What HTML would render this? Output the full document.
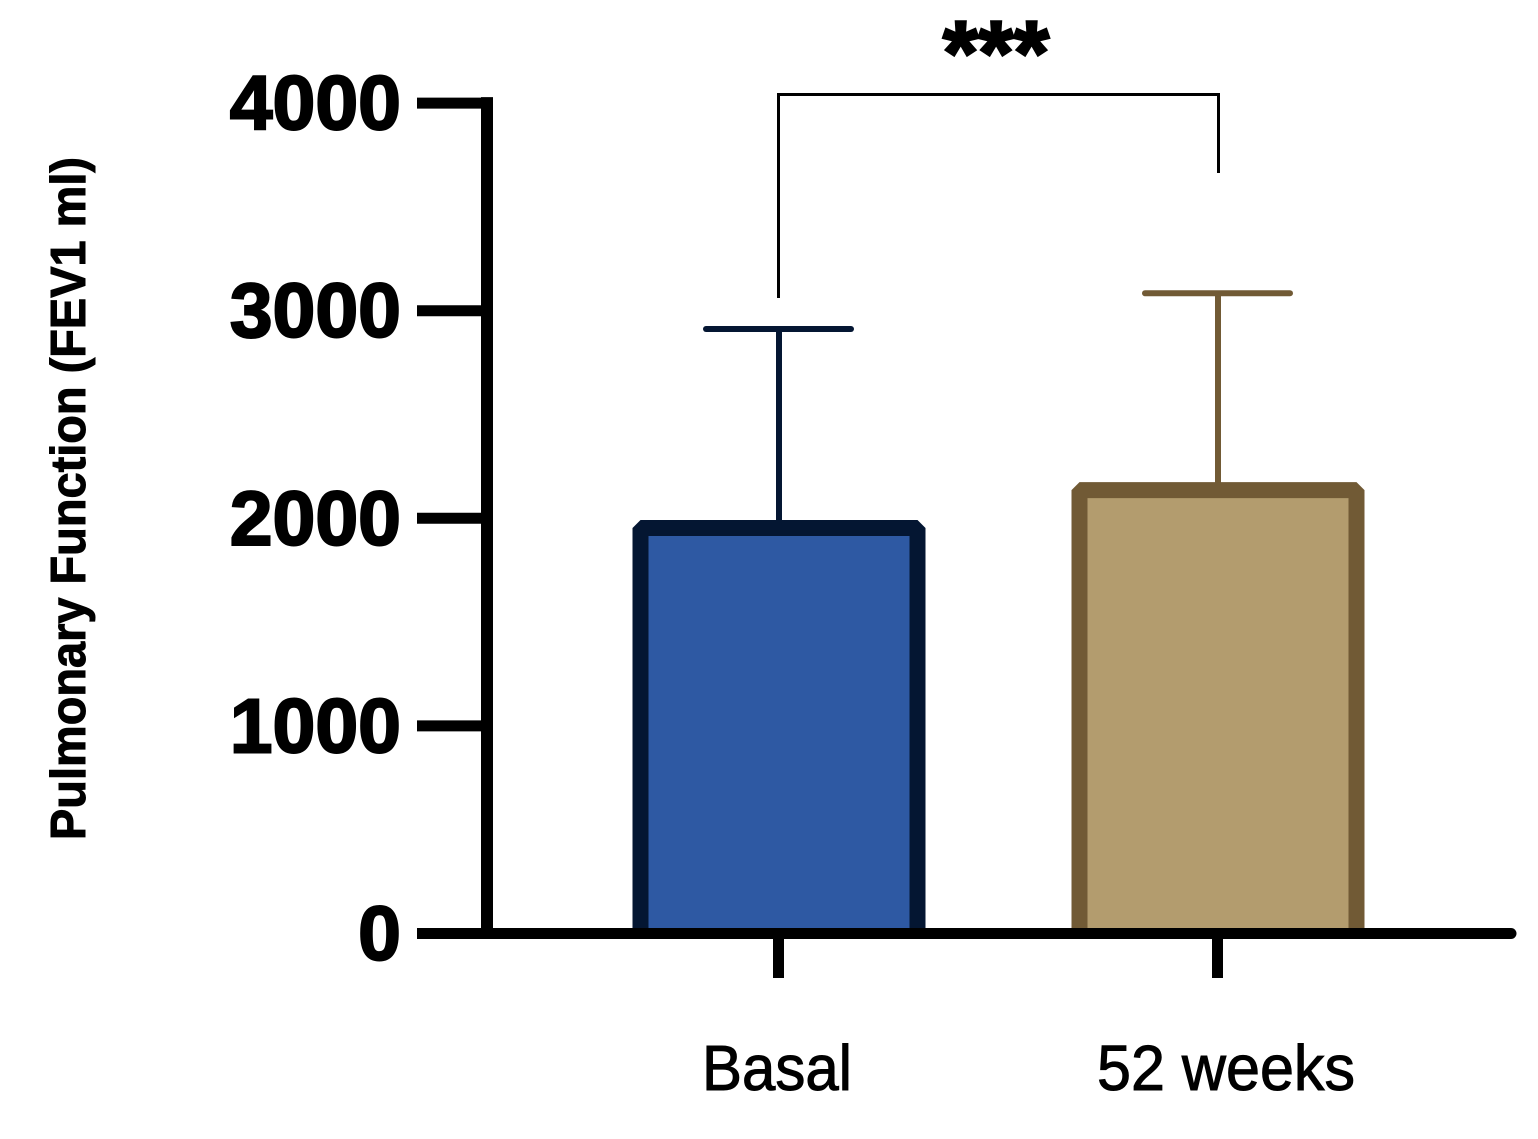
<!DOCTYPE html>
<html lang="en">
<head>
<meta charset="utf-8">
<title>Pulmonary Function</title>
<style>
html,body{margin:0;padding:0;background:#fff;width:1538px;height:1139px;overflow:hidden}
svg{display:block}
text{font-family:"Liberation Sans",Arial,sans-serif;fill:#000;stroke:#000}
</style>
</head>
<body>
<svg id="chart" xmlns="http://www.w3.org/2000/svg" width="1538" height="1139" viewBox="0 0 1538 1139"></svg>
<script>
const categories = ['Basal', '52 weeks'];
const means = [1953, 2136];
const upperErrors = [2912, 3084];
const yTicks = [0, 1000, 2000, 3000, 4000];
const yTitle = 'Pulmonary Function (FEV1 ml)';
const significance = '***';
const fills = ['#2e59a3', '#b39c6e'];
const strokes = ['#041632', '#715a35'];

const svg = document.getElementById('chart');
const NS = 'http://www.w3.org/2000/svg';
function yScale(v) { return 933.5 - v * 0.2076; }
function xScale(i) { return 779 + i * 439; }
function make(tag, attrs, text) {
  const el = document.createElementNS(NS, tag);
  for (const k in attrs) el.setAttribute(k, attrs[k]);
  if (text !== undefined) el.textContent = text;
  svg.appendChild(el);
  return el;
}

/* bars + error bars */
categories.forEach(function (c, i) {
  const cx = xScale(i);
  const top = yScale(means[i]);
  const capY = yScale(upperErrors[i]);
  const stem = make('line', {x1: cx, x2: cx, y1: capY, y2: top, stroke: strokes[i], 'stroke-width': 6});
  
  
  const cap = make('line', {x1: cx - 73, x2: cx + 72, y1: capY, y2: capY, stroke: strokes[i], 'stroke-width': 6, 'stroke-linecap': 'round'});
  
  
  const left = cx - 138.5, right = cx + 138.5, base = yScale(0);
  const bar = make('path', {d: 'M' + left + ' ' + base + 'V' + top + 'H' + right + 'V' + base, fill: fills[i], stroke: strokes[i], 'stroke-width': 16, 'stroke-linejoin': 'bevel'});
  
  
  const tick = make('line', {x1: cx - 0.5, x2: cx - 0.5, y1: base, y2: 978, stroke: '#000', 'stroke-width': 11});
  
  
});

/* x labels */
const xLabelLeft = [702, 1097];
const xLabelWidth = [150, 258];
categories.forEach(function (c, i) {
  const lab = make('text', {x: xLabelLeft[i], y: 1090, 'font-size': 64, 'stroke-width': 1, textLength: xLabelWidth[i], lengthAdjust: 'spacingAndGlyphs'}, c);
  
  
});

/* axes */
const yAxis = make('line', {x1: 487, x2: 487, y1: yScale(4000) - 6, y2: yScale(0), stroke: '#000', 'stroke-width': 12});


const xAxis = make('line', {x1: 417, x2: 1511, y1: yScale(0), y2: yScale(0), stroke: '#000', 'stroke-width': 11});


const xAxisEnd = make('circle', {cx: 1511, cy: yScale(0), r: 5.5, fill: '#000'});



yTicks.forEach(function (t) {
  const y = yScale(t);
  const tk = make('line', {x1: 417, x2: 482, y1: y, y2: y, stroke: '#000', 'stroke-width': 11});
  
  
  const lb = make('text', {x: 401, y: y + 26.5, 'font-size': 77, 'font-weight': 'bold', 'stroke-width': 2, 'text-anchor': 'end'}, String(t));
  
  
});

/* y title */
const title = make('text', {transform: 'translate(85 840) rotate(-90)', x: 0, y: 0, 'font-size': 49, 'font-weight': 'bold', 'stroke-width': 1, textLength: 683, lengthAdjust: 'spacingAndGlyphs'}, yTitle);



/* significance bracket */
const bracket = make('path', {d: 'M' + (xScale(0) - 0.5) + ' 298V94.5H' + (xScale(1) + 0.5) + 'V173', fill: 'none', stroke: '#000', 'stroke-width': 3});


const stars = make('text', {x: 996, y: 84, 'font-size': 91, 'font-weight': 'bold', 'stroke-width': 2.5, 'text-anchor': 'middle'}, significance);


</script>
</body>
</html>
